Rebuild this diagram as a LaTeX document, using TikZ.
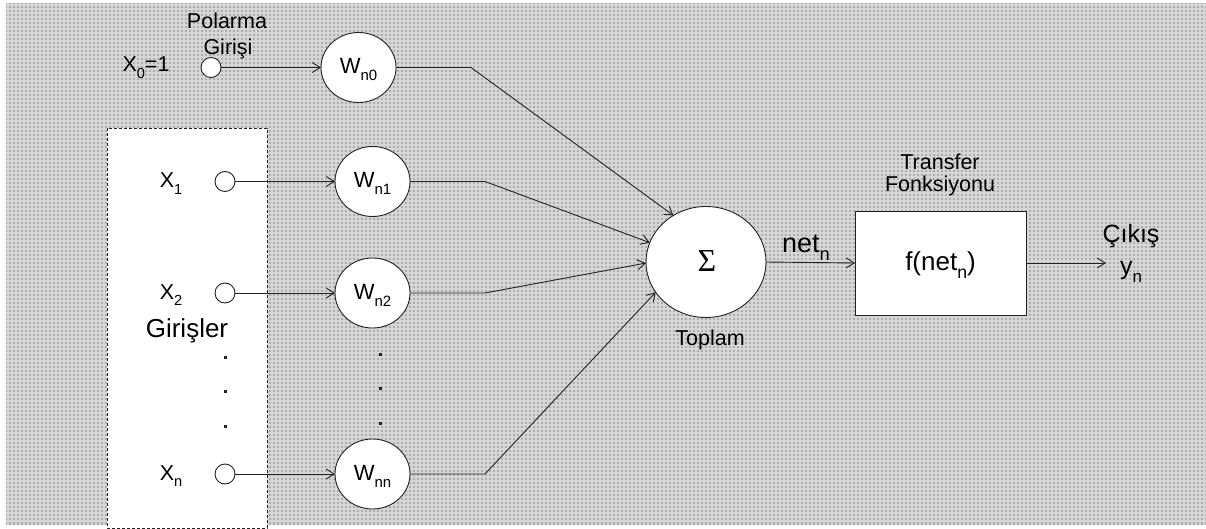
\documentclass[tikz,border=0pt]{standalone}
\usepackage{fontspec}
\setmainfont{Liberation Sans}
\newfontfamily\greekserif{Liberation Serif}
\usepackage{graphicx}
\usetikzlibrary{arrows.meta,shapes.geometric}

% lowered, smaller index as used in the labels
\newcommand{\lowidx}[1]{\raisebox{-0.32em}{\scalebox{0.68}{#1}}}

\definecolor{linec}{HTML}{222222}
\definecolor{bgbase}{HTML}{ADADAD}
\definecolor{bggrid}{HTML}{D6D6D6}

\tikzset{
  every node/.style={inner sep=0pt, outer sep=0pt},
  lbl/.style={font=\fontsize{21.5}{25}\selectfont},
  biglbl/.style={font=\fontsize{26}{30}\selectfont},
  term/.style={circle, draw=linec, fill=white, minimum size=20pt, line width=0.9pt},
  weight/.style={ellipse, draw=linec, fill=white, minimum width=75pt,
    minimum height=70pt, line width=0.9pt, font=\fontsize{22}{25}\selectfont,
    text depth=3pt},
  link/.style={draw=linec, line width=0.9pt, -{Straight Barb[length=8pt,width=10pt]}},
  bggridline/.style={draw=bggrid, line width=1.5pt},
  dotmark/.style={fill=linec},
}

\begin{document}
\begin{tikzpicture}[x=1pt, y=-1pt]
\useasboundingbox (0,0) rectangle (1206,529);

% patterned backdrop
\fill[bgbase] (6,3) rectangle (1206,525);
\foreach \gx in {8,12,...,1204} \draw[bggridline] (\gx,3) -- (\gx,525);
\foreach \gy in {5,9,...,523} \draw[bggridline] (6,\gy) -- (1206,\gy);

% input group
\draw[draw=linec, fill=white, line width=0.9pt, dash pattern=on 3pt off 2pt]
  (107,128) rectangle (267,528);

% bias input
\node[lbl] (pol1) at (227,21) {Polarma};
\node[lbl] (pol2) at (228,49) {Girişi};
\node[lbl, anchor=base] (x0lbl) at (146,72) {X\lowidx{0}=1};
\node[term] (x0) at (211,67.5) {};

% inputs
\node[lbl, anchor=base] (x1lbl) at (171,188) {X\lowidx{1}};
\node[lbl, anchor=base] (x2lbl) at (171,299) {X\lowidx{2}};
\node[lbl, anchor=base] (xnlbl) at (171,480) {X\lowidx{n}};
\node[term] (x1) at (225,181.5) {};
\node[term] (x2) at (225,293) {};
\node[term] (xn) at (225,474) {};
\node[biglbl, anchor=base] (girisler) at (187,337) {Girişler};

% weights
\node[weight] (w0) at (358.5,67.5) {W\lowidx{n0}};
\node[weight] (w1) at (372.5,181.5) {W\lowidx{n1}};
\node[weight] (w2) at (372.5,293) {W\lowidx{n2}};
\node[weight] (wn) at (372.5,474) {W\lowidx{nn}};

% ellipsis dots
\foreach \dy in {357,391,426} \fill[dotmark] (223.5,\dy-1.5) rectangle ++(3,3);
\foreach \dy in {354,388,423} \fill[dotmark] (378.5,\dy-1.5) rectangle ++(3,3);

% summation
\node[ellipse, draw=linec, fill=white, minimum width=120pt, minimum height=111pt,
  line width=0.9pt] (sigma) at (706,262) {};
\node[font=\greekserif\fontsize{32}{34}\selectfont] (sigmasym) at (707,261) {Σ};
\node[lbl] (toplam) at (710,340) {Toplam};

% transfer block
\node[draw=linec, fill=white, line width=0.9pt, minimum width=171pt,
  minimum height=104pt, biglbl, text depth=4pt] (tf) at (940.5,263) {f(net\lowidx{n})};
\node[lbl] (tf1) at (940,162) {Transfer};
\node[lbl] (tf2) at (940,186) {Fonksiyonu};
\node[font=\fontsize{27}{30}\selectfont, anchor=base] (netlbl) at (806,252) {net\lowidx{n}};

% output
\coordinate (outend) at (1106,263);
\node[font=\fontsize{25}{28}\selectfont, anchor=base] (cikis) at (1131,243) {Çıkış};
\node[font=\fontsize{25}{28}\selectfont, anchor=base] (yout) at (1131,274) {y\lowidx{n}};

% bends of the weighted links
\coordinate (b0) at (471,67.5);
\coordinate (b1) at (485,181.5);
\coordinate (b2) at (485,293);
\coordinate (bn) at (485,474);

% connectors
\draw[link] (x0) -- (w0);
\draw[link] (x1) -- (w1);
\draw[link] (x2) -- (w2);
\draw[link] (xn) -- (wn);
\draw[link] (w0.east) -- (b0) -- (sigma.125);
\draw[link] (w1.east) -- (b1) -- (sigma.161);
\draw[link] (w2.east) -- (b2) -- (sigma.181);
\draw[link] (wn.east) -- (bn) -- (sigma.211);
\draw[link] (sigma.east) -- (tf.west);
\draw[link] (tf.east) -- (outend);
\end{tikzpicture}
\end{document}
